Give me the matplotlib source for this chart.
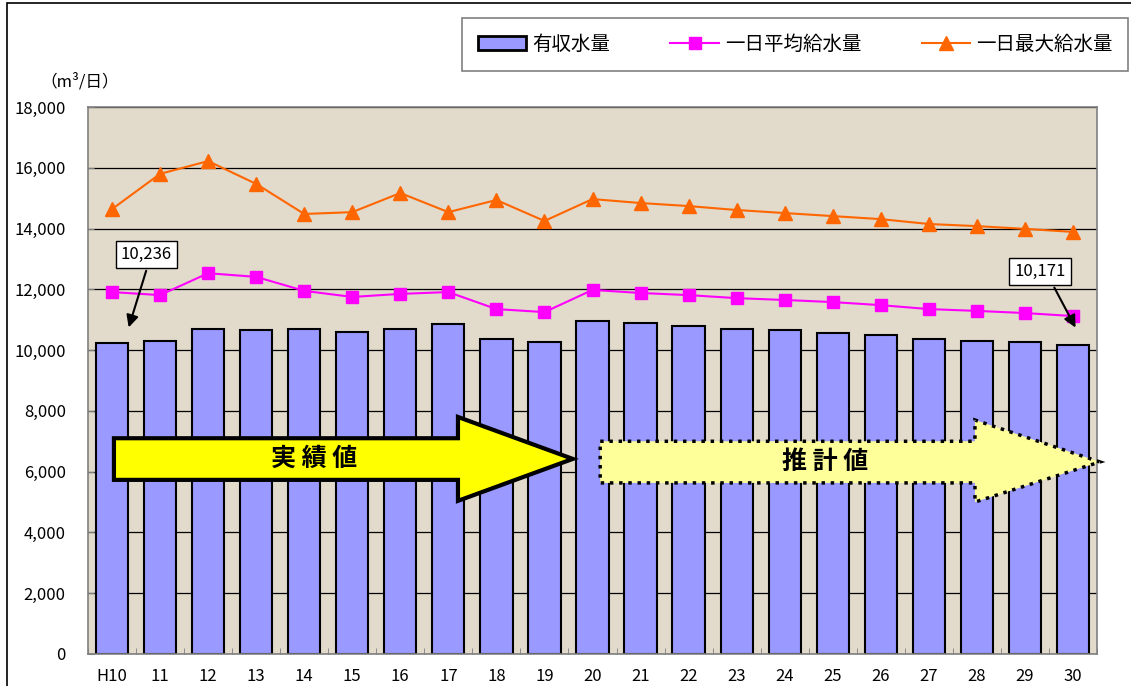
import matplotlib
matplotlib.use('Agg')
from matplotlib import pyplot as plt
from matplotlib.patches import Polygon, Rectangle, Patch
from matplotlib.lines import Line2D
from matplotlib.ticker import FuncFormatter
import numpy as np

plt.rcParams['font.family'] = ['Noto Sans CJK JP', 'DejaVu Sans']

# Data
years = ['H10', '11', '12', '13', '14', '15', '16', '17', '18', '19', '20',
         '21', '22', '23', '24', '25', '26', '27', '28', '29', '30']
revenue_water = [10236, 10300, 10690, 10660, 10690, 10600, 10690, 10860, 10370, 10270, 10960,
                 10890, 10800, 10690, 10660, 10570, 10500, 10370, 10300, 10260, 10171]
daily_avg = [11910, 11810, 12530, 12410, 11950, 11750, 11850, 11910, 11350, 11250, 11980,
             11880, 11810, 11710, 11650, 11580, 11480, 11350, 11290, 11220, 11120]
daily_max = [14640, 15800, 16220, 15470, 14480, 14540, 15170, 14540, 14940, 14250, 14970,
             14840, 14740, 14610, 14510, 14410, 14310, 14150, 14080, 13990, 13890]
labels = ['有収水量', '一日平均給水量', '一日最大給水量']

W, H = 1131, 686
fig = plt.figure(figsize=(W / 100, H / 100), dpi=100)
ax = fig.add_axes([88 / W, 32 / H, 1009 / W, 547 / H])
ax.set_facecolor('#E2DACB')

x = np.arange(len(years))
ax.bar(x, revenue_water, width=0.67, color='#9999FF', edgecolor='black', linewidth=1.5, zorder=2)
ax.plot(x, daily_avg, color='#FF00FF', marker='s', markersize=8, lw=1.5, zorder=4)
ax.plot(x, daily_max, color='#FF6600', marker='^', markersize=10, lw=1.5, zorder=4)

ax.set_xlim(-0.5, len(years) - 0.5)
ax.set_ylim(0, 18000)
ax.set_yticks(np.arange(0, 18001, 2000))
ax.yaxis.set_major_formatter(FuncFormatter(lambda v, p: f'{int(v):,}'))
ax.yaxis.grid(True, color='black', lw=0.9, zorder=1)
ax.set_axisbelow(True)
ax.set_xticks(x)
ax.set_xticklabels(years)
ax.set_xticks(np.arange(-0.5, len(years), 1), minor=True)
ax.tick_params(axis='x', which='major', length=0, pad=10, labelsize=12)
ax.tick_params(axis='x', which='minor', direction='in', length=4, color='#808080')
ax.tick_params(axis='y', direction='in', length=4, pad=16, labelsize=12, color='#808080')
for s in ax.spines.values():
    s.set_color('#808080')
    s.set_linewidth(1.2)

# value callouts
ax.annotate('10,236', xy=(0.33, 10660), xytext=(0.71, 13160), ha='center', va='center',
            fontsize=12, bbox=dict(boxstyle='square,pad=0.3', fc='white', ec='black', lw=1),
            arrowprops=dict(arrowstyle='-|>', color='black', lw=1.5, mutation_scale=18,
                            relpos=(0.55, 0)), zorder=6)
ax.annotate('10,171', xy=(20.08, 10660), xytext=(19.31, 12600), ha='center', va='center',
            fontsize=12, bbox=dict(boxstyle='square,pad=0.3', fc='white', ec='black', lw=1),
            arrowprops=dict(arrowstyle='-|>', color='black', lw=1.5, mutation_scale=18,
                            relpos=(0.7, 0)), zorder=6)

# big arrows: actual / estimated
arr1 = [(0.04, 7100), (7.2, 7100), (7.2, 7800), (9.59, 6420), (7.2, 5040), (7.2, 5730), (0.04, 5730)]
ax.add_patch(Polygon(arr1, closed=True, fc='#FFFF00', ec='black', lw=3, zorder=5, clip_on=False))
ax.text(4.2, 6420, '実 績 値', ha='center', va='center', fontsize=18, fontweight='bold', zorder=6)

arr2 = [(10.16, 7000), (17.96, 7000), (17.96, 7700), (20.56, 6320), (17.96, 5000), (17.96, 5630), (10.16, 5630)]
ax.add_patch(Polygon(arr2, closed=True, fc='#FFFF99', ec='black', lw=2.5, ls=':', zorder=5, clip_on=False))
ax.text(14.85, 6320, '推 計 値', ha='center', va='center', fontsize=18, fontweight='bold', zorder=6)

# unit label
fig.text(40 / W, 1 - 82 / H, '（m³/日）', ha='left', va='center', fontsize=12)

# outer frame
fig.add_artist(Rectangle((7 / W, -0.1), 1.2, 1 - 3 / H + 0.1, transform=fig.transFigure,
                         fill=False, ec='black', lw=1.2))

# legend
handles = [Patch(fc='#9999FF', ec='black', lw=2),
           Line2D([], [], color='#FF00FF', marker='s', markersize=8, lw=1.5),
           Line2D([], [], color='#FF6600', marker='^', markersize=10, lw=1.5)]
leg = fig.legend(handles, labels, loc='center', ncol=3, mode='expand',
                 bbox_to_anchor=(462 / W, 1 - 71 / H, 666 / W, 53 / H),
                 fontsize=14, handlelength=2.5, handletextpad=0.3, borderaxespad=0,
                 borderpad=0.8, fancybox=False, edgecolor='#808080', framealpha=1)
leg.get_frame().set_linewidth(1.2)

fig.savefig('out.png', dpi=100)
